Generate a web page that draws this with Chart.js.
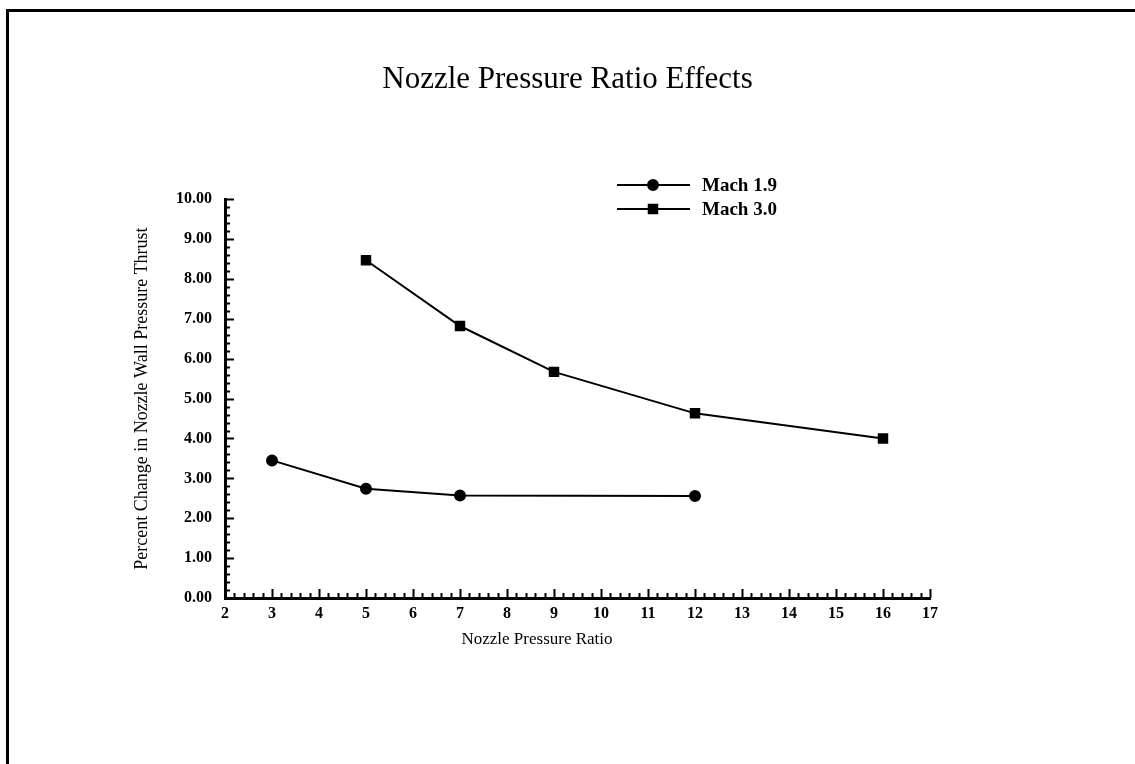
<!DOCTYPE html>
<html>
<head>
<meta charset="utf-8">
<script src="https://cdn.jsdelivr.net/npm/chart.js@4.4.0/dist/chart.umd.min.js"></script>
<style>
  html, body { margin: 0; padding: 0; background: #fff; }
  #wrap { position: relative; width: 1135px; height: 764px; overflow: hidden; }
  #frame { position: absolute; left: 6px; top: 9px; right: -10px; bottom: -10px; border-left: 3px solid #000; border-top: 3px solid #000; }
  canvas { position: absolute; left: 0; top: 0; }
</style>
</head>
<body>
<div id="wrap">
  <div id="frame"></div>
  <canvas id="nprChart" width="1135" height="764"></canvas>
</div>
<script>
// values
const mach19Ratio = [3, 5, 7, 12];
const mach19Change = [3.45, 2.74, 2.57, 2.56];
const mach30Ratio = [5, 7, 9, 12, 16];
const mach30Change = [8.47, 6.82, 5.67, 4.63, 4.00];
const seriesNames = ['Mach 1.9', 'Mach 3.0'];
const xTickLabels = ['2', '3', '4', '5', '6', '7', '8', '9', '10', '11', '12', '13', '14', '15', '16', '17'];
const yTickLabels = ['0.00', '1.00', '2.00', '3.00', '4.00', '5.00', '6.00', '7.00', '8.00', '9.00', '10.00'];
const xAxisTitle = 'Nozzle Pressure Ratio';

const serif = "'Liberation Serif', 'Times New Roman', serif";
const black = '#000';

function toPoints(xs, ys) {
    return xs.map((x, i) => ({ x: x, y: ys[i] }));
}

// small inward tick marks, major + minor, like the original plot
const tickMarks = {
    id: 'tickMarks',
    afterDraw(chart) {
        const { ctx, chartArea: a, scales: { x, y } } = chart;
        ctx.save();
        ctx.strokeStyle = black;
        ctx.lineWidth = 2;
        ctx.beginPath();
        for (let i = 0; i <= 50; i++) {
            const p = Math.round(y.getPixelForValue(i * 0.2)) + 0.5;
            const len = i % 5 === 0 ? 9 : 5;
            ctx.moveTo(a.left, p);
            ctx.lineTo(a.left + len, p);
        }
        for (let i = 0; i <= 75; i++) {
            const p = Math.round(x.getPixelForValue(2 + i * 0.2)) + 0.5;
            const len = i % 5 === 0 ? 9 : 5;
            ctx.moveTo(p, a.bottom);
            ctx.lineTo(p, a.bottom - len);
        }
        ctx.stroke();
        ctx.restore();
    }
};

// legend: short line with the marker in the middle, then the name
// also the x axis title, which sits left of centre in the original
const lineLegend = {
    id: 'lineLegend',
    afterDraw(chart) {
        const { ctx, chartArea: a } = chart;
        const left = 617, top = 185;
        ctx.save();
        chart.data.datasets.forEach((ds, i) => {
            const yy = top + i * 24;
            ctx.strokeStyle = black;
            ctx.lineWidth = 2;
            ctx.beginPath();
            ctx.moveTo(left, yy);
            ctx.lineTo(left + 73, yy);
            ctx.stroke();
            Chart.helpers.drawPoint(ctx, {
                pointStyle: ds.pointStyle,
                radius: ds.pointRadius,
                borderWidth: 1,
                rotation: 0
            }, left + 36, yy);
            ctx.fillStyle = black;
            ctx.fill();
            ctx.font = 'bold 19px ' + serif;
            ctx.textBaseline = 'middle';
            ctx.textAlign = 'left';
            ctx.fillText(ds.label, left + 85, yy + 1);
        });
        ctx.font = '17px ' + serif;
        ctx.textAlign = 'center';
        ctx.textBaseline = 'middle';
        ctx.fillText(xAxisTitle, 537, a.bottom + 42);
        ctx.restore();
    }
};

const ctx = document.getElementById('nprChart').getContext('2d');
new Chart(ctx, {
    type: 'line',
    data: {
        datasets: [
            {
                label: seriesNames[0],
                data: toPoints(mach19Ratio, mach19Change),
                borderColor: black,
                backgroundColor: black,
                borderWidth: 2,
                pointStyle: 'circle',
                pointRadius: 5,
                tension: 0
            },
            {
                label: seriesNames[1],
                data: toPoints(mach30Ratio, mach30Change),
                borderColor: black,
                backgroundColor: black,
                borderWidth: 2,
                pointStyle: 'rect',
                pointRadius: 6,
                tension: 0
            }
        ]
    },
    options: {
        responsive: false,
        animation: false,
        devicePixelRatio: 1,
        layout: { padding: { left: 0, right: 0, top: 0, bottom: 106 } },
        plugins: {
            legend: { display: false },
            tooltip: { enabled: false },
            title: {
                display: true,
                text: 'Nozzle Pressure Ratio Effects',
                color: black,
                font: { family: serif, size: 31, weight: 'normal' },
                padding: { top: 61, bottom: 101 }
            }
        },
        scales: {
            x: {
                type: 'linear',
                min: 2,
                max: 17,
                grid: { display: false, drawTicks: false },
                border: { display: true, width: 3, color: black },
                ticks: {
                    stepSize: 1,
                    color: black,
                    padding: 6,
                    font: { family: serif, size: 16, weight: 'bold' },
                    callback: (v) => xTickLabels[v - 2]
                },
                afterFit: (s) => { s.height = 60; }
            },
            y: {
                min: 0,
                max: 10,
                grid: { display: false, drawTicks: false },
                border: { display: true, width: 3, color: black },
                ticks: {
                    stepSize: 1,
                    color: black,
                    padding: 13,
                    font: { family: serif, size: 16, weight: 'bold' },
                    callback: (v) => yTickLabels[v]
                },
                title: {
                    display: true,
                    text: 'Percent Change in Nozzle Wall Pressure Thrust',
                    color: black,
                    font: { family: serif, size: 18 },
                    padding: { top: 131, bottom: 0 }
                },
                afterFit: (s) => { s.width = 225; }
            },
            // empty right-hand gutter so the title centres on the page
            gutter: {
                type: 'linear',
                position: 'right',
                display: true,
                grid: { display: false, drawTicks: false },
                border: { display: false },
                ticks: { display: false },
                afterFit: (s) => { s.width = 205; }
            }
        }
    },
    plugins: [tickMarks, lineLegend]
});
</script>
</body>
</html>
